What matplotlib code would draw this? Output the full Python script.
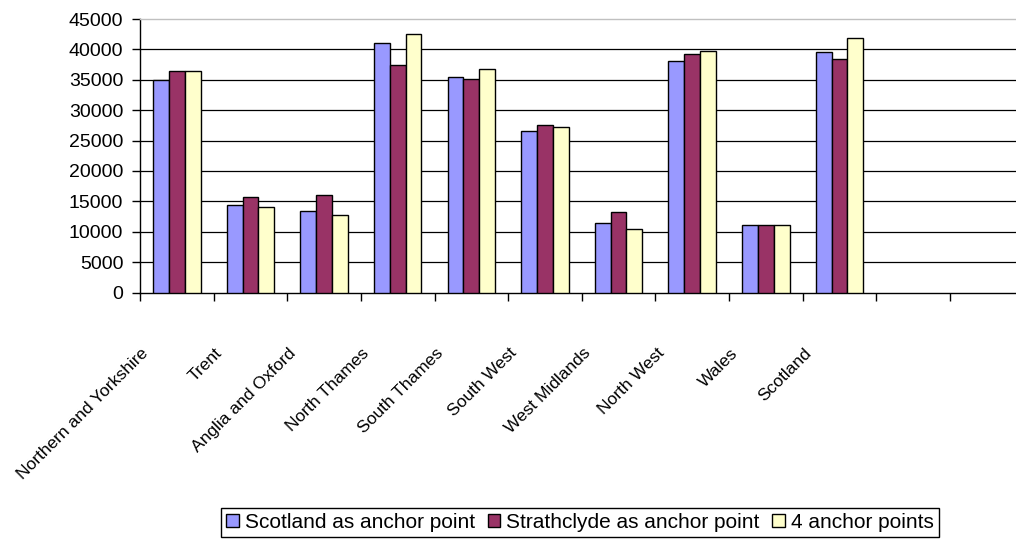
import matplotlib
matplotlib.use("Agg")
import matplotlib.pyplot as plt
from matplotlib.transforms import offset_copy
import numpy as np

plt.rcParams["font.family"] = ["Liberation Sans", "DejaVu Sans"]

# Regions (x categories) and the three estimates per region
regions = [
    "Northern and Yorkshire", "Trent", "Anglia and Oxford", "North Thames",
    "South Thames", "South West", "West Midlands", "North West", "Wales",
    "Scotland",
]
series_names = [
    "Scotland as anchor point",
    "Strathclyde as anchor point",
    "4 anchor points",
]
scotland_anchor = [35000, 14400, 13400, 41100, 35500, 26600, 11500, 38100, 11100, 39500]
strathclyde_anchor = [36400, 15700, 16000, 37400, 35100, 27600, 13200, 39200, 11100, 38500]
four_anchors = [36400, 14100, 12800, 42500, 36800, 27300, 10500, 39800, 11100, 41800]
y_ticks = list(range(0, 45001, 5000))

colors = ["#9999FF", "#993366", "#FFFFCC"]
series = [scotland_anchor, strathclyde_anchor, four_anchors]

W, H = 1016, 539
fig = plt.figure(figsize=(W / 100, H / 100), dpi=100)
left, right, top, bottom = 140, 1023.5, 19, 292.5
ax = fig.add_axes([left / W, 1 - bottom / H, (right - left) / W, (bottom - top) / H])

n_slots = 12
x = np.arange(len(regions))
bar_w = 0.215
for i, (vals, name, col) in enumerate(zip(series, series_names, colors)):
    ax.bar(x + (i - 1) * bar_w, vals, bar_w, color=col, edgecolor="black",
           linewidth=1.0, label=name, zorder=3)

ax.set_xlim(-0.5, n_slots - 0.5)
ax.set_ylim(0, 45000)
ax.set_yticks(y_ticks)
ax.set_yticklabels([str(v) for v in y_ticks])
ax.hlines(y_ticks[1:-1], -0.5, n_slots - 0.5, colors="black", lw=0.9, zorder=1)

ax.set_xticks(np.arange(n_slots + 1) - 0.5)
ax.set_xticklabels([])
ax.tick_params(axis="both", direction="out", length=6, width=1.0, color="black")
ax.tick_params(axis="y", labelsize=14, pad=6)

for side in ("left", "bottom"):
    ax.spines[side].set_color("black")
    ax.spines[side].set_linewidth(1.0)
ax.spines["top"].set_color("#C0C0C0")
ax.spines["top"].set_linewidth(1.0)
ax.spines["right"].set_visible(False)

# Slanted region names below the axis
lab_tf = offset_copy(ax.get_xaxis_transform(), fig=fig, x=-36, y=-53, units="dots")
for xi, name in zip(x, regions):
    ax.text(xi, 0, name, transform=lab_tf, rotation=45, rotation_mode="anchor",
            ha="right", va="top", fontsize=12.5)

leg = fig.legend(loc="center", bbox_to_anchor=(580 / W, 1 - 522.5 / H), ncol=3,
                 fontsize=15, frameon=True, fancybox=False, edgecolor="black",
                 framealpha=1, handlelength=0.6, handleheight=0.6,
                 handletextpad=0.3, columnspacing=0.6, borderpad=0.25,
                 borderaxespad=0)
leg.get_frame().set_linewidth(1.0)

fig.savefig("out.png", dpi=100)
